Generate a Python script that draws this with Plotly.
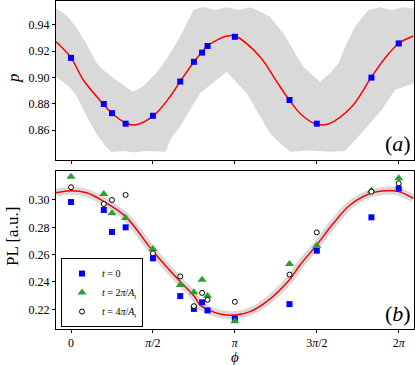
import numpy as np
import plotly.graph_objects as go

PI = np.pi
# measurement angles
phi = [0, PI/5, PI/4, PI/3, PI/2, 2*PI/3, 3*PI/4, 4*PI/5, 5*PI/6, PI, 4*PI/3, 3*PI/2, 11*PI/6, 2*PI]

# panel (a): p values
p_vals = [0.915, 0.880, 0.873, 0.865, 0.871, 0.897, 0.912, 0.919, 0.924, 0.931, 0.883, 0.865, 0.900, 0.926]

# panel (a) fitted curve
curve_a_phi = [-0.288, 0.0, 0.236, 0.619, 0.786, 1.054, 1.227, 1.578, 1.898, 2.090, 2.358, 2.517, 2.621,
               2.985, 3.144, 3.623, 3.944, 4.185, 4.423, 4.711, 4.933, 5.382, 5.752, 6.020, 6.288, 6.563]
curve_a_p = [0.9273, 0.9152, 0.8982, 0.8800, 0.8729, 0.8653, 0.8640, 0.8709, 0.8855, 0.8969, 0.9121, 0.9197, 0.9243,
             0.9316, 0.9316, 0.9159, 0.8969, 0.8830, 0.8716, 0.8645, 0.8648, 0.8779, 0.9000, 0.9147, 0.9261, 0.9316]

# panel (a) uncertainty band
band_up_phi = [-0.288, -0.096, 0.096, 0.288, 0.479, 0.575, 0.863, 1.183, 1.375, 1.630, 1.821, 1.898, 2.090, 2.282,
               2.345, 2.536, 2.761, 2.985, 3.207, 3.432, 3.560, 3.815, 4.070, 4.262, 4.454, 4.774, 4.965, 5.125,
               5.286, 5.445, 5.700, 5.924, 6.154, 6.365, 6.595]
band_up_p = [0.9527, 0.9476, 0.9387, 0.9261, 0.9121, 0.9071, 0.8982, 0.8893, 0.8931, 0.9033, 0.9134, 0.9185, 0.9311,
             0.9463, 0.9514, 0.9539, 0.9514, 0.9534, 0.9514, 0.9534, 0.9514, 0.9463, 0.9337, 0.9210, 0.9083, 0.8969,
             0.9033, 0.9109, 0.9261, 0.9387, 0.9514, 0.9534, 0.9514, 0.9534, 0.9525]
band_lo_phi = [-0.288, -0.033, 0.096, 0.288, 0.479, 0.671, 0.767, 1.035, 1.189, 1.419, 1.821, 1.898, 2.090, 2.473,
               2.985, 3.368, 3.815, 4.007, 4.199, 4.582, 4.965, 5.253, 5.573, 5.957, 6.212, 6.595]
band_lo_p = [0.9007, 0.8931, 0.8868, 0.8716, 0.8577, 0.8475, 0.8437, 0.8443, 0.8431, 0.8443, 0.8437, 0.8526, 0.8627,
             0.8881, 0.9045, 0.8881, 0.8577, 0.8501, 0.8437, 0.8446, 0.8437, 0.8443, 0.8579, 0.8754, 0.8906, 0.8959]

# panel (b): PL values
pl_t0 = [0.2985, 0.2927, 0.2766, 0.2800, 0.2573, 0.2297, 0.2203, 0.2251, 0.2192, 0.2132, 0.2238, 0.2629, 0.2873, 0.3083]
pl_t2 = [0.3170, 0.3044, 0.2903, 0.2868, 0.2641, 0.2378, 0.2325, 0.2416, 0.2300, 0.2113, 0.2532, 0.2666, 0.3068, 0.3159]
pl_t4 = [0.3093, 0.2971, 0.3000, 0.3037, 0.2610, 0.2441, 0.2223, 0.2320, 0.2270, 0.2255, 0.2454, 0.2763, 0.3061, 0.3122]

curve_b_phi = [-0.288, 0.0, 0.301, 0.633, 1.048, 1.578, 2.096, 2.358, 2.473, 2.614, 2.857, 3.144, 3.432, 3.751,
               4.185, 4.390, 4.711, 5.030, 5.350, 5.752, 6.053, 6.283, 6.563]
curve_b_pl = [0.3053, 0.3068, 0.3053, 0.2988, 0.2878, 0.2622, 0.2402, 0.2297, 0.2232, 0.2200, 0.2166, 0.2158, 0.2183,
              0.2256, 0.2415, 0.2524, 0.2671, 0.2829, 0.2963, 0.3049, 0.3068, 0.3061, 0.3012]

xtick_vals = [0, PI/2, PI, 3*PI/2, 2*PI]
xtick_text = ["0", "<i>π</i>/2", "<i>π</i>", "3<i>π</i>/2", "2<i>π</i>"]
ytick_a = [0.86, 0.88, 0.90, 0.92, 0.94]
ytick_a_text = ["0.86", "0.88", "0.90", "0.92", "0.94"]
ytick_b = [0.22, 0.24, 0.26, 0.28, 0.30]
ytick_b_text = ["0.22", "0.24", "0.26", "0.28", "0.30"]
legend_names = ["<i>t</i> = 0",
                "<i>t</i> = 2<i>π</i>/<i>A</i><sub>‖</sub>",
                "<i>t</i> = 4<i>π</i>/<i>A</i><sub>‖</sub>"]

FONT = "Liberation Serif"
GRAY = "#d9d9d9"
GREEN = "#2ca02c"

fig = go.Figure()

# (a) band
fig.add_trace(go.Scatter(x=band_up_phi + band_lo_phi[::-1], y=band_up_p + band_lo_p[::-1],
                         fill="toself", fillcolor=GRAY, line=dict(width=0), mode="lines",
                         showlegend=False, hoverinfo="skip", xaxis="x", yaxis="y"))
fig.add_trace(go.Scatter(x=curve_a_phi, y=curve_a_p, mode="lines", line=dict(color="red", width=1.5, shape="spline"),
                         showlegend=False, xaxis="x", yaxis="y"))
fig.add_trace(go.Scatter(x=phi, y=p_vals, mode="markers",
                         marker=dict(symbol="square", color="blue", size=6, line=dict(width=0)),
                         showlegend=False, xaxis="x", yaxis="y"))

# (b)
fig.add_trace(go.Scatter(x=curve_b_phi, y=curve_b_pl, mode="lines", line=dict(color=GRAY, width=8, shape="spline"),
                         showlegend=False, xaxis="x2", yaxis="y2"))
fig.add_trace(go.Scatter(x=curve_b_phi, y=curve_b_pl, mode="lines", line=dict(color="red", width=1.5, shape="spline"),
                         showlegend=False, xaxis="x2", yaxis="y2"))
fig.add_trace(go.Scatter(x=phi, y=pl_t0, mode="markers", name=legend_names[0],
                         marker=dict(symbol="square", color="blue", size=6, line=dict(width=0)),
                         xaxis="x2", yaxis="y2"))
fig.add_trace(go.Scatter(x=phi, y=pl_t2, mode="markers", name=legend_names[1],
                         marker=dict(symbol="triangle-up", color=GREEN, size=8, line=dict(width=0)),
                         xaxis="x2", yaxis="y2"))
fig.add_trace(go.Scatter(x=phi, y=pl_t4, mode="markers", name=legend_names[2],
                         marker=dict(symbol="circle", color="white", size=5, line=dict(color="black", width=1)),
                         xaxis="x2", yaxis="y2"))

xr = [-0.2876, 6.576]
axis_common = dict(showline=True, linecolor="black", linewidth=1, mirror=True, ticks="outside",
                   ticklen=3, tickwidth=1, tickcolor="black", showgrid=False, zeroline=False,
                   tickfont=dict(family=FONT, size=12, color="black"))

fig.update_layout(
    width=415, height=365,
    margin=dict(l=56, r=1, t=1, b=36),
    paper_bgcolor="white", plot_bgcolor="white",
    xaxis=dict(domain=[0, 1], range=xr, anchor="y", tickvals=xtick_vals, showticklabels=False, **axis_common),
    yaxis=dict(domain=[0.5152, 1], range=[0.8374, 0.9582], anchor="x", tickvals=ytick_a, ticktext=ytick_a_text,
               **axis_common),
    xaxis2=dict(domain=[0, 1], range=xr, anchor="y2", tickvals=xtick_vals, ticktext=xtick_text, **axis_common),
    yaxis2=dict(domain=[0, 0.4817], range=[0.2056, 0.3212], anchor="x2", tickvals=ytick_b, ticktext=ytick_b_text,
                **axis_common),
    legend=dict(x=0.014, y=0.006, xanchor="left", yanchor="bottom", bgcolor="white",
                bordercolor="black", borderwidth=1, font=dict(family=FONT, size=10, color="black"),
                itemwidth=30, tracegroupgap=0),
    showlegend=True,
    font=dict(family=FONT, color="black"),
)

ann = [
    dict(text="<i>p</i>", x=13, y=78, size=17, angle=-90),
    dict(text="PL [a.u.]", x=12, y=237, size=17, angle=-90),
    dict(text="<i>ϕ</i>", x=235, y=357, size=15, angle=0),
    dict(text="(<i>a</i>)", x=398, y=143, size=22, angle=0),
    dict(text="(<i>b</i>)", x=398, y=313, size=22, angle=0),
]
for a in ann:
    fig.add_annotation(text=a["text"], xref="paper", yref="paper",
                       x=(a["x"] - 56) / 358, y=(329 - a["y"]) / 328,
                       xanchor="center", yanchor="middle", showarrow=False, textangle=a["angle"],
                       font=dict(family=FONT, size=a["size"], color="black"))

fig.write_html("out.html", config={"displayModeBar": False},
               post_script="document.body.style.margin='0';")
